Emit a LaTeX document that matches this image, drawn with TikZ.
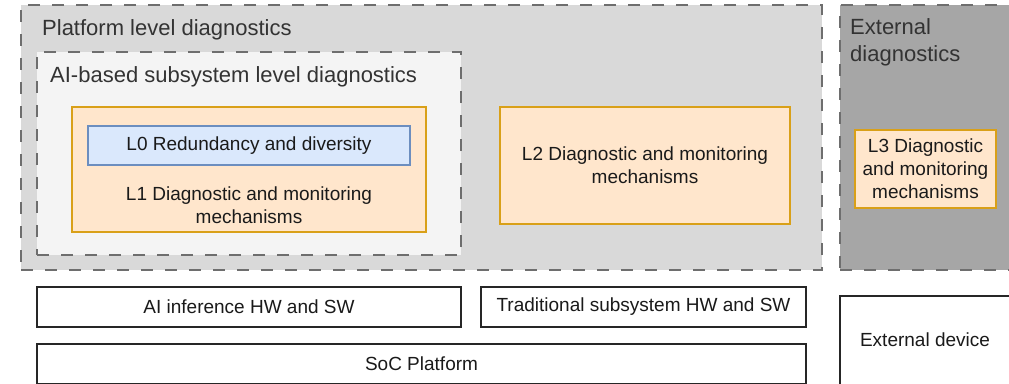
\documentclass[tikz,border=0pt]{standalone}
\usepackage{fontspec}
\setmainfont{Liberation Sans}
\definecolor{platfill}{HTML}{D9D9D9}
\definecolor{aifill}{HTML}{F4F4F4}
\definecolor{extfill}{HTML}{A6A6A6}
\definecolor{dashcol}{HTML}{6E6E6E}
\definecolor{orfill}{HTML}{FFE6CC}
\definecolor{ordraw}{HTML}{D9A018}
\definecolor{blfill}{HTML}{DAE8FC}
\definecolor{bldraw}{HTML}{6C8EBF}
\definecolor{titlecol}{HTML}{333333}
\definecolor{txtcol}{HTML}{1A1A1A}
\tikzset{
  box/.style={rectangle, inner sep=0pt, outer sep=0pt},
  dashbox/.style={box, draw=dashcol, line width=1.8pt, dash pattern=on 12pt off 12pt},
  orbox/.style={box, draw=ordraw, fill=orfill, line width=1.5pt, text=txtcol, align=center, font=\fontsize{19}{22.8}\selectfont},
  blbox/.style={box, draw=bldraw, fill=blfill, line width=1.5pt, text=txtcol, align=center, font=\fontsize{19}{22.8}\selectfont},
  whbox/.style={box, draw=black!85, fill=white, line width=1.4pt, text=txtcol, align=center, font=\fontsize{19}{22.8}\selectfont},
  title/.style={inner sep=0pt, text=titlecol, align=left, font=\fontsize{22}{26.4}\selectfont},
  plain/.style={inner sep=0pt, text=txtcol, align=center, font=\fontsize{19}{22.8}\selectfont}
}
\begin{document}
\begin{tikzpicture}[x=1pt,y=-1pt]
\useasboundingbox[fill=white] (0,0) rectangle (1009,383);
% platform level
\node[dashbox, fill=platfill, minimum width=801pt, minimum height=265pt] (plat) at (421.5,137.5) {};
\node[title, anchor=base west] (platt) at (42,35) {Platform level diagnostics};
% AI subsystem
\node[dashbox, fill=aifill, minimum width=424pt, minimum height=203pt] (ai) at (249,153.5) {};
\node[title, anchor=base west] (ait) at (50,82) {AI-based subsystem level diagnostics};
% L1 and L0
\node[orbox, minimum width=354pt, minimum height=125pt] (l1) at (249,169.5) {};
\node[blbox, minimum width=322pt, minimum height=39pt] (l0) at (249,145.5) {L0 Redundancy and diversity};
\node[plain] (l1t) at (249,205) {L1 Diagnostic and monitoring\\mechanisms};
% L2
\node[orbox, minimum width=290pt, minimum height=117pt] (l2) at (645,165.5) {L2 Diagnostic and monitoring\\mechanisms};
% external
\node[dashbox, fill=extfill, minimum width=174pt, minimum height=265pt] (ext) at (927,137.5) {};
\node[title, anchor=base west] (extt) at (850,61) {External\\diagnostics};
\node[orbox, minimum width=141pt, minimum height=78pt] (l3) at (925.5,169) {L3 Diagnostic\\and monitoring\\mechanisms};
% bottom layer
\node[whbox, minimum width=424pt, minimum height=40pt] (aihw) at (249,307) {AI inference HW and SW};
\node[whbox, minimum width=325pt, minimum height=40pt] (trad) at (643.5,307) {Traditional subsystem HW and SW};
\node[whbox, minimum width=769pt, minimum height=39.5pt] (soc) at (421.5,363.75) {SoC Platform};
\node[whbox, minimum width=172pt, minimum height=96pt] (extdev) at (926,344) {};
\node[plain] (extdevt) at (925,339.5) {External device};
\end{tikzpicture}
\end{document}
